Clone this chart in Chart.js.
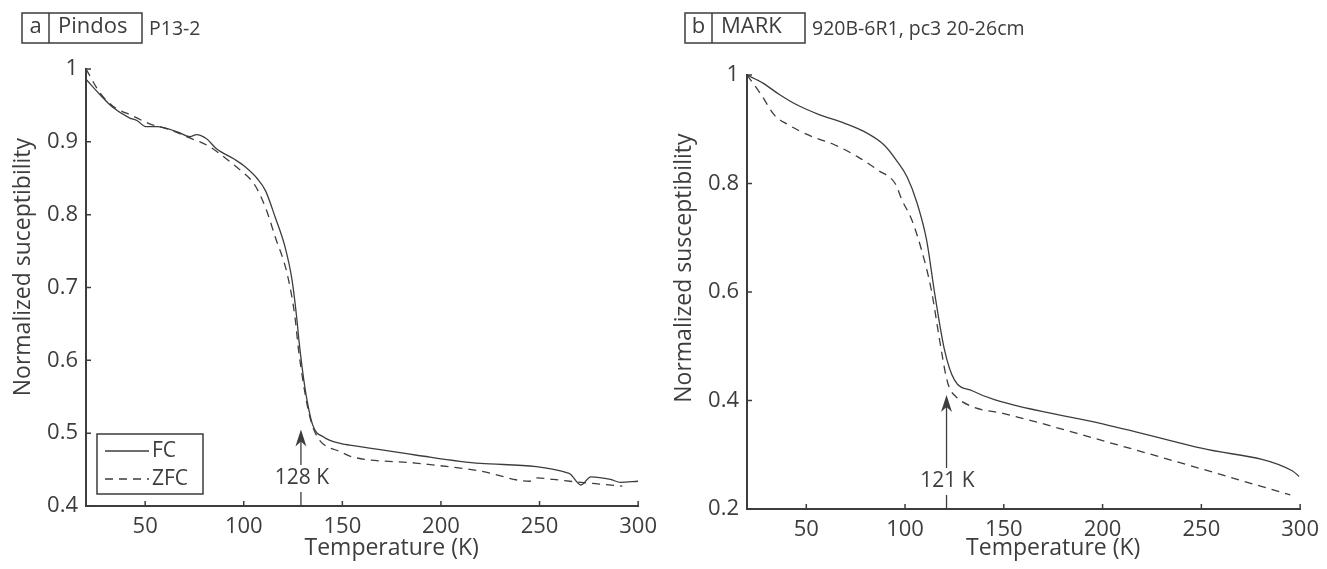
<!DOCTYPE html>
<html>
<head>
<meta charset="utf-8">
<script src="https://cdn.jsdelivr.net/npm/chart.js@4.4.1/dist/chart.umd.min.js"></script>
<style>
  body { margin: 0; background: #fff; }
  #wrap { position: relative; width: 1327px; height: 569px; }
  canvas { position: absolute; top: 0; }
</style>
</head>
<body>
<div id="wrap">
  <canvas id="chartA" width="665" height="569" style="left:0"></canvas>
  <canvas id="chartB" width="662" height="569" style="left:665px"></canvas>
</div>
<script>
const ink = '#3d3d3d';
const family = "'Open Sans', 'Noto Sans', sans-serif";

// panel a: Pindos P13-2
const fcTempA = [20, 27, 33.7, 42, 46, 50.3, 56, 67, 72.8, 76, 81, 86, 95.3, 101, 107, 111, 116, 121, 124.5, 127, 128, 131, 135, 140.3, 150.3, 153.7, 187, 220, 265, 271, 276, 286, 291, 300];
const fcValA = [0.986, 0.965, 0.947, 0.933, 0.929, 0.921, 0.921, 0.913, 0.907, 0.910, 0.9045, 0.891, 0.876, 0.865, 0.849, 0.833, 0.796, 0.755, 0.710, 0.655, 0.627, 0.563, 0.511, 0.495, 0.485, 0.4837, 0.470, 0.4585, 0.4448, 0.4288, 0.440, 0.4365, 0.4325, 0.434];
const zfcTempA = [20, 27, 33.7, 43.7, 52, 62, 72, 82, 90.3, 98.7, 105.3, 111, 116, 122, 126, 127.8, 132, 134.5, 137.8, 149.5, 155, 187, 220, 245, 249, 257, 268.7, 277, 292];
const zfcValA = [1.0, 0.9676, 0.949, 0.9356, 0.925, 0.917, 0.906, 0.8945, 0.8785, 0.860, 0.842, 0.810, 0.769, 0.719, 0.659, 0.614, 0.541, 0.513, 0.4927, 0.474, 0.4675, 0.459, 0.448, 0.434, 0.4385, 0.4365, 0.433, 0.431, 0.4274];
const yTicksA = [0.4, 0.5, 0.6, 0.7, 0.8, 0.9, 1];

// panel b: MARK 920B-6R1, pc3 20-26cm
const fcTempB = [20, 28.1, 36.4, 44.7, 56.2, 69.5, 79.4, 89.4, 96, 101, 106, 110.9, 115, 120, 125, 134, 145.6, 200, 250, 296, 299.5];
const fcValB = [1.0, 0.985, 0.964, 0.946, 0.9275, 0.911, 0.8955, 0.871, 0.841, 0.8125, 0.765, 0.696, 0.5976, 0.493, 0.438, 0.418, 0.401, 0.357, 0.312, 0.2706, 0.26];
const zfcTempB = [20, 27.3, 33.9, 40.5, 51.3, 64.5, 76.1, 86.5, 95, 98.4, 103.4, 108.4, 113.3, 117.5, 120.8, 122.4, 125.8, 134, 150, 200, 250, 295];
const zfcValB = [1.0, 0.963, 0.926, 0.909, 0.889, 0.871, 0.849, 0.824, 0.800, 0.770, 0.733, 0.677, 0.604, 0.5115, 0.444, 0.424, 0.407, 0.3886, 0.376, 0.326, 0.274, 0.226];
const yTicksB = [0.2, 0.4, 0.6, 0.8, 1];

const xTicks = [50, 100, 150, 200, 250, 300];

function points(xs, ys) {
  return xs.map((x, i) => ({ x: x, y: ys[i] }));
}

// tick marks point into the plot, like the original figure
const innerTicks = {
  id: 'innerTicks',
  afterDraw(chart) {
    const { ctx, scales: { x, y } } = chart;
    ctx.save();
    ctx.strokeStyle = ink;
    ctx.lineWidth = 1.5;
    ctx.beginPath();
    x.ticks.forEach(t => {
      const px = x.getPixelForValue(t.value);
      ctx.moveTo(px, x.top);
      ctx.lineTo(px, x.top - 5);
    });
    y.ticks.forEach(t => {
      const py = y.getPixelForValue(t.value);
      ctx.moveTo(y.right, py);
      ctx.lineTo(y.right + 5, py);
    });
    ctx.stroke();
    ctx.restore();
  }
};

// axis titles sit off-centre in the original, so they are placed by hand
const axisTitles = {
  id: 'axisTitles',
  afterDraw(chart, args, o) {
    const { ctx, scales: { x, y } } = chart;
    ctx.save();
    ctx.fillStyle = ink;
    ctx.font = '23px ' + family;
    ctx.textAlign = 'center';
    ctx.textBaseline = 'middle';
    ctx.fillText(o.xText, x.getPixelForValue(o.xCenter), x.bottom - 21);
    ctx.translate(y.left + o.yInset, y.getPixelForValue(o.yCenter));
    ctx.rotate(-Math.PI / 2);
    ctx.fillText(o.yText, 0, 0);
    ctx.restore();
  }
};

const panelTitle = {
  id: 'panelTitle',
  afterDraw(chart, args, o) {
    const { ctx, chartArea } = chart;
    const left = chartArea.left - o.inset;
    ctx.save();
    ctx.strokeStyle = ink;
    ctx.fillStyle = ink;
    ctx.lineWidth = 1.5;
    ctx.strokeRect(left, 13, o.boxWidth, 30);
    ctx.beginPath();
    ctx.moveTo(left + 27, 13);
    ctx.lineTo(left + 27, 43);
    ctx.stroke();
    ctx.font = '22px ' + family;
    ctx.textBaseline = 'middle';
    ctx.textAlign = 'center';
    ctx.fillText(o.letter, left + 13.5, 27);
    ctx.textAlign = 'left';
    ctx.fillText(o.site, left + 36, 27);
    ctx.font = '19.5px ' + family;
    ctx.fillText(o.sample, left + o.boxWidth + 7, 29);
    ctx.restore();
  }
};

const transitionArrow = {
  id: 'transitionArrow',
  afterDatasetsDraw(chart, args, o) {
    const { ctx, scales: { x, y } } = chart;
    const px = x.getPixelForValue(o.temp);
    const tipY = y.getPixelForValue(o.tip);
    const baseY = y.bottom;
    const labelY = baseY - 28;
    ctx.save();
    ctx.strokeStyle = ink;
    ctx.fillStyle = ink;
    ctx.lineWidth = 1.3;
    ctx.beginPath();
    ctx.moveTo(px, baseY);
    ctx.lineTo(px, tipY + 10);
    ctx.stroke();
    ctx.beginPath();
    ctx.moveTo(px, tipY);
    ctx.lineTo(px - 5.5, tipY + 17);
    ctx.lineTo(px, tipY + 12);
    ctx.lineTo(px + 5.5, tipY + 17);
    ctx.closePath();
    ctx.fill();
    ctx.font = '21px ' + family;
    const w = ctx.measureText(o.label).width;
    ctx.fillStyle = '#fff';
    ctx.fillRect(px - w / 2 - 2, labelY - 13, w + 4, 27);
    ctx.fillStyle = ink;
    ctx.textAlign = 'center';
    ctx.textBaseline = 'middle';
    ctx.fillText(o.label, px + 1, labelY);
    ctx.restore();
  }
};

const boxLegend = {
  id: 'boxLegend',
  afterDraw(chart, args, o) {
    if (!o.show) return;
    const { ctx, chartArea } = chart;
    const bx = chartArea.left + 11;
    const by = chartArea.bottom - 72;
    ctx.save();
    ctx.strokeStyle = ink;
    ctx.fillStyle = '#fff';
    ctx.lineWidth = 1.5;
    ctx.fillRect(bx, by, 106, 60);
    ctx.strokeRect(bx, by, 106, 60);
    ctx.font = '21px ' + family;
    ctx.textBaseline = 'middle';
    ctx.textAlign = 'left';
    chart.data.datasets.forEach((ds, i) => {
      const ly = by + 17 + i * 28;
      ctx.lineWidth = ds.borderWidth;
      ctx.setLineDash(ds.borderDash || []);
      ctx.beginPath();
      ctx.moveTo(bx + 8, ly);
      ctx.lineTo(bx + 52, ly);
      ctx.stroke();
      ctx.setLineDash([]);
      ctx.fillStyle = ink;
      ctx.fillText(ds.label, bx + 55, ly);
    });
    ctx.restore();
  }
};

function makeChart(id, p) {
  const ctx = document.getElementById(id).getContext('2d');
  return new Chart(ctx, {
    type: 'line',
    data: {
      datasets: [
        {
          label: 'FC',
          data: points(p.fcT, p.fcV),
          borderColor: ink,
          borderWidth: 1.3,
          pointRadius: 0,
          cubicInterpolationMode: 'monotone',
          fill: false
        },
        {
          label: 'ZFC',
          data: points(p.zfcT, p.zfcV),
          borderColor: ink,
          borderWidth: 1.3,
          borderDash: [8, 6],
          pointRadius: 0,
          cubicInterpolationMode: 'monotone',
          fill: false
        }
      ]
    },
    options: {
      responsive: false,
      animation: false,
      devicePixelRatio: 1,
      layout: { padding: { top: p.top, right: p.right, left: 0, bottom: 0 } },
      plugins: {
        legend: { display: false },
        tooltip: { enabled: false },
        panelTitle: p.title,
        transitionArrow: p.arrow,
        boxLegend: { show: p.legend },
        axisTitles: {
          xText: 'Temperature (K)', xCenter: 175,
          yText: p.yTitle, yCenter: p.yTitleAt, yInset: p.yTitleInset
        }
      },
      scales: {
        x: {
          type: 'linear',
          min: 20,
          max: 300,
          afterBuildTicks: s => { s.ticks = xTicks.map(v => ({ value: v })); },
          afterFit: s => { s.height = p.xHeight; },
          grid: { display: false, drawTicks: false },
          border: { display: true, color: ink, width: 2 },
          ticks: { color: ink, padding: 8, font: { family: family, size: 22 }, maxRotation: 0 }
        },
        y: {
          type: 'linear',
          min: p.yTicks[0],
          max: 1,
          afterBuildTicks: s => { s.ticks = p.yTicks.map(v => ({ value: v })); },
          afterFit: s => { s.width = p.yWidth; },
          grid: { display: false, drawTicks: false },
          border: { display: true, color: ink, width: 2 },
          ticks: {
            color: ink,
            padding: 8,
            font: { family: family, size: 22 },
            callback: v => String(+v.toFixed(1))
          }
        }
      }
    },
    plugins: [innerTicks, axisTitles, panelTitle, transitionArrow, boxLegend]
  });
}

makeChart('chartA', {
  fcT: fcTempA, fcV: fcValA, zfcT: zfcTempA, zfcV: zfcValA,
  yTicks: yTicksA,
  yTitle: 'Normalized suceptibility',
  yTitleAt: 0.728, yTitleInset: 23,
  top: 69, right: 19, xHeight: 63, yWidth: 86,
  title: { letter: 'a', site: 'Pindos', sample: 'P13-2', boxWidth: 120, inset: 64 },
  arrow: { temp: 129, tip: 0.505, label: '128 K' },
  legend: true
});

makeChart('chartB', {
  fcT: fcTempB, fcV: fcValB, zfcT: zfcTempB, zfcV: zfcValB,
  yTicks: yTicksB,
  yTitle: 'Normalized susceptibility',
  yTitleAt: 0.644, yTitleInset: 19,
  top: 75, right: 16, xHeight: 60, yWidth: 82,
  title: { letter: 'b', site: 'MARK', sample: '920B-6R1, pc3 20-26cm', boxWidth: 120, inset: 62 },
  arrow: { temp: 121, tip: 0.41, label: '121 K' },
  legend: false
});
</script>
</body>
</html>
